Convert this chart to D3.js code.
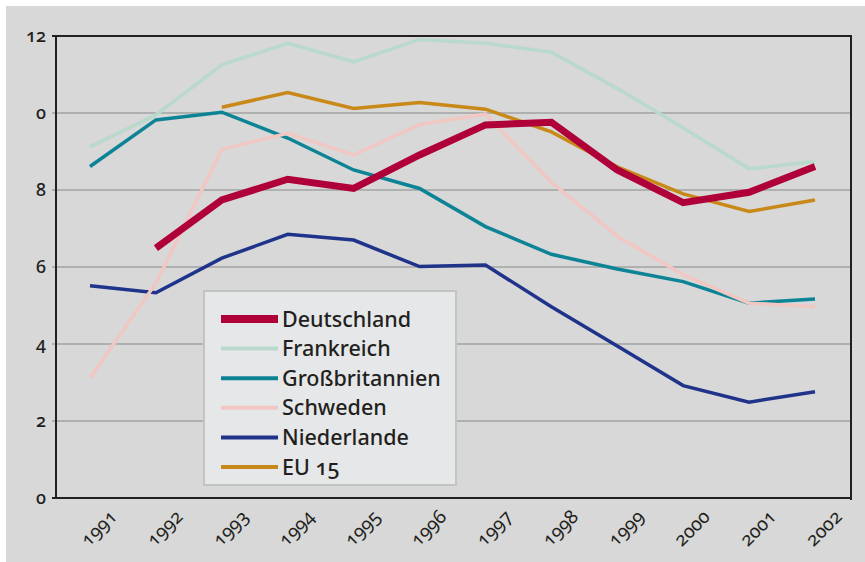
<!DOCTYPE html>
<html>
<head>
<meta charset="utf-8">
<script src="https://cdn.jsdelivr.net/npm/d3@7"></script>
<style>
  body { margin: 0; background: #fff; }
  svg text { font-family: "Noto Sans", "Open Sans", sans-serif; font-variant-numeric: oldstyle-nums; fill: #231f20; }
</style>
</head>
<body>
<div id="chart"></div>
<script>
// data
const years = [1991, 1992, 1993, 1994, 1995, 1996, 1997, 1998, 1999, 2000, 2001, 2002];
const deutschland   = [null, 6.49, 7.74, 8.28, 8.04, 8.91, 9.69, 9.76, 8.52, 7.67, 7.94, 8.61];
const frankreich    = [9.12, 9.95, 11.25, 11.81, 11.33, 11.91, 11.81, 11.58, 10.64, 9.62, 8.55, 8.74];
const grossbritannien = [8.61, 9.82, 10.02, 9.35, 8.52, 8.04, 7.05, 6.33, 5.95, 5.62, 5.06, 5.17];
const schweden      = [3.12, 5.58, 9.06, 9.47, 8.91, 9.70, 9.97, 8.20, 6.80, 5.80, 5.06, 4.97];
const niederlande   = [5.51, 5.33, 6.23, 6.85, 6.70, 6.01, 6.05, 4.97, 3.95, 2.92, 2.49, 2.76];
const eu15          = [null, null, 10.15, 10.53, 10.12, 10.27, 10.10, 9.51, 8.60, 7.90, 7.44, 7.74];
const yTicks = [0, 2, 4, 6, 8, 10, 12];
const yTickLabels = ["0", "2", "4", "6", "8", "0", "12"];

const series = [
  { name: "Frankreich", values: frankreich, color: "#b9d9cc", width: 3.5 },
  { name: "Großbritannien", values: grossbritannien, color: "#0d8396", width: 3.5 },
  { name: "Niederlande", values: niederlande, color: "#1f338a", width: 3.5 },
  { name: "Schweden", values: schweden, color: "#f1c7c4", width: 3.5 },
  { name: "EU 15", values: eu15, color: "#c98918", width: 3.5 },
  { name: "Deutschland", values: deutschland, color: "#b0003a", width: 7 }
];
const legendOrder = ["Deutschland", "Frankreich", "Großbritannien", "Schweden", "Niederlande", "EU 15"];

// layout
const W = 865, H = 562;
const plot = { left: 56, right: 851, top: 36, bottom: 498 };

const svg = d3.select("#chart").append("svg")
  .attr("width", W)
  .attr("height", H);

svg.append("rect").attr("width", W).attr("height", H).attr("fill", "#fff");
svg.append("rect").attr("x", 6).attr("y", 6).attr("width", W - 6).attr("height", H - 6).attr("fill", "#d7d8d7");

// scales
const scaleX = d3.scalePoint().domain(years).range([90, 815]);
const scaleY = d3.scaleLinear().domain([0, 12]).range([plot.bottom, plot.top]);

// grid
const groupGrid = svg.append("g").attr("class", "groupGrid");
groupGrid.selectAll("line")
  .data(yTicks.filter(d => d > 0 && d < 12))
  .join("line")
  .attr("x1", plot.left - 4)
  .attr("x2", plot.right)
  .attr("y1", d => scaleY(d))
  .attr("y2", d => scaleY(d))
  .attr("stroke", "#a2a3a3")
  .attr("stroke-width", 1.5);

// frame
const groupFrame = svg.append("g").attr("class", "groupFrame")
  .attr("stroke", "#231f20").attr("stroke-width", 2).attr("fill", "none");
groupFrame.append("line").attr("x1", plot.left - 4).attr("x2", plot.right + 1)
  .attr("y1", scaleY(12)).attr("y2", scaleY(12));
groupFrame.append("line").attr("x1", plot.left - 4).attr("x2", plot.right + 1)
  .attr("y1", scaleY(0)).attr("y2", scaleY(0));
groupFrame.append("line").attr("x1", plot.left).attr("x2", plot.left)
  .attr("y1", plot.top - 1).attr("y2", plot.bottom + 1);
groupFrame.append("line").attr("x1", plot.right).attr("x2", plot.right)
  .attr("y1", plot.top - 1).attr("y2", plot.bottom + 2);

// y tick labels
svg.append("g").attr("class", "groupAxisY")
  .selectAll("text")
  .data(yTicks)
  .join("text")
  .attr("x", plot.left - 10)
  .attr("y", d => scaleY(d))
  .attr("dy", "0.35em")
  .attr("text-anchor", "end")
  .attr("font-size", 18)
  .attr("font-weight", 500)
  .text((d, i) => yTickLabels[i]);

// x tick labels
svg.append("g").attr("class", "groupAxisX")
  .selectAll("text")
  .data(years)
  .join("text")
  .attr("transform", d => `translate(${scaleX(d) + 28}, 518) rotate(-45)`)
  .attr("text-anchor", "end")
  .attr("font-size", 19)
  .text(d => d);

// lines
const line = d3.line()
  .defined(d => d.v != null)
  .x(d => scaleX(d.year))
  .y(d => scaleY(d.v));

svg.append("g").attr("class", "groupMarks")
  .selectAll("path")
  .data(series)
  .join("path")
  .attr("fill", "none")
  .attr("stroke", d => d.color)
  .attr("stroke-width", d => d.width)
  .attr("stroke-linejoin", "miter")
  .attr("d", d => line(years.map((y, i) => ({ year: y, v: d.values[i] }))));

// legend
const legend = svg.append("g").attr("class", "groupLegend");
legend.append("rect")
  .attr("x", 204).attr("y", 291).attr("width", 252).attr("height", 194)
  .attr("fill", "#e6e7e8").attr("stroke", "#c3c4c4").attr("stroke-width", 2);
const legendItems = legend.selectAll("g.item")
  .data(legendOrder.map(n => series.find(s => s.name === n)))
  .join("g")
  .attr("class", "item")
  .attr("transform", (d, i) => `translate(0, ${319 + i * 29.6})`);
legendItems.append("line")
  .attr("x1", 221).attr("x2", 278)
  .attr("stroke", d => d.color)
  .attr("stroke-width", d => d.width > 4 ? 8 : 4);
legendItems.append("text")
  .attr("x", 282)
  .attr("y", 7.5)
  .attr("font-size", 21.5)
  .attr("font-weight", 500)
  .text(d => d.name);
</script>
</body>
</html>
